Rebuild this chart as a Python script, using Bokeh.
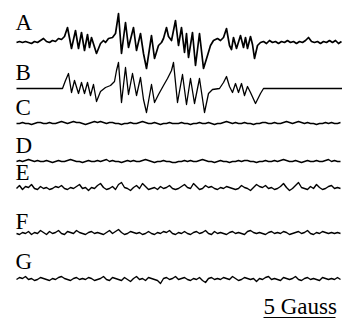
from bokeh.plotting import figure
from bokeh.models import Range1d, Label
from bokeh.embed import file_html
from bokeh.resources import INLINE

# Field positions in points (72 points = 5 Gauss), signal in arbitrary units (up = positive)
field_A = [0, 3, 6, 9, 12, 15, 18, 21, 24, 27, 30, 33, 36, 39, 42, 45, 48, 51, 55, 59,
           62, 65, 68, 71, 73, 75, 80, 84, 87, 89, 92, 96, 99, 101, 102, 105, 109, 112, 117, 120,
           124, 127, 130, 135, 138, 142, 145, 147, 150, 152, 155, 159, 162, 165, 168, 170, 172, 176, 179, 183,
           187, 191, 194, 197, 201, 204, 207, 210, 213, 215, 217, 220, 224, 227, 229, 231, 234, 236, 238, 241,
           244, 247, 250, 253, 256, 259, 262, 265, 268, 271, 274, 277, 280, 283, 286, 289, 292, 295, 298, 301,
           304, 307, 310, 313, 316, 319, 322, 325]
signal_A = [0, 1, 0, 1, 0, -1, 1, 0, 2, 4, 1, 0, 2, 1, 4, 3, 6, 15, -6, 12,
            -6, 10, -8, 8, -5, 5, -11, -1, 2, 0, 4, 5, 9, 22, 29, -11, 20, -5, 15, -8,
            9, -11, -26, 7, -16, -3, 0, 4, 15, 6, 2, 22, -3, 15, -10, 9, -15, 10, -23, 9,
            -26, -13, -3, 2, 4, 2, 5, 14, -3, -7, 5, -6, 7, -5, 5, -6, 6, -2, -16, -3,
            0, 1, -1, 2, 0, 1, -1, 1, 0, 2, 0, 1, -1, 1, 0, 2, 5, 1, 0, 1,
            -1, 1, 0, 2, 0, 2, -1, 1]

field_B = [0, 46, 49, 52, 55, 58, 62, 65, 68, 71, 74, 77, 80, 84, 89, 94, 98, 100, 102, 105,
           109, 112, 116, 120, 124, 127, 130, 135, 138, 142, 147, 151, 155, 157, 161, 166, 170, 174, 178, 183,
           188, 192, 196, 203, 207, 210, 213, 216, 219, 222, 225, 228, 231, 234, 239, 244, 247, 326]
signal_B = [0, 0, 8, 15, -4, 8, -5, 6, -5, 6, -7, 4, -13, -3, 1, 3, 7, 18, 26, -14,
            21, -6, 15, -7, 11, -11, -24, 4, -14, -6, 3, 10, 18, 26, -14, 14, -16, 10, -15, 10,
            -24, -5, -1, 0, 6, 12, 2, -4, 5, -4, 5, -7, 2, -4, -15, -5, 0, 0]

signal_C = [0, 0, 1, 0, 0, -1, 0, 1, 1, 0, 0, 1, 0, 0, 1, 2, 1, 0, 1, 2,
            1, 1, 0, -1, 0, 1, 2, 1, 2, 1, 0, 1, 1, 0, 0, -1, 0, 0, 1, 0,
            0, 1, 2, 1, 0, 0, 1, 0, -1, 0, 0, 1, 0, 0, 0, 1, 0, 0, -1, 0,
            0, 1, 0, 0, 1, 0, -1, 0, 0, 1, 2, 1, 0, 1, 0, 0, 1, 0, 0, -1,
            0, 0, 1, 1, 0, 0, 1, 0, 0, 1, 2, 1, 0, 1, 2, 1, 0, 1, 0, 0,
            -1, 0, 0, 1, 0, 1, 0, 0, 1]
signal_D = [0, 1, 0, 1, 2, 1, 0, 1, 0, 0, 1, 0, -1, 0, 1, 0, 0, 1, 2, 1,
            0, 0, -1, 0, 1, 0, 0, 1, 0, 1, 2, 0, 1, 0, 0, -1, 0, 1, 0, 1,
            0, 0, 1, 2, 1, 0, -1, 0, 0, 1, 0, 0, -1, -1, 0, 0, 1, 0, 1, 0,
            0, 1, 2, 1, 0, 0, -1, 0, 1, 0, 0, -1, 0, 0, 1, 0, 1, 1, 0, 0,
            -1, 0, 0, 1, 0, 0, 1, 0, 1, 2, 1, 0, 0, 1, 0, -1, 0, 1, 0, 0,
            1, 0, 0, 1, 2, 0, 1, 0, 0]
signal_E = [0, 3, -1, 2, 1, 4, 0, -1, 2, 0, 1, -1, 0, 2, 1, 3, 0, -1, 1, 0,
            2, 4, 0, 1, -2, 1, 0, 3, 5, 1, -1, 0, 2, -1, 4, 6, 1, 0, -2, 1,
            3, 0, 5, 2, -1, 0, 1, -1, 2, 0, 1, 3, 0, -1, 0, 2, 4, 1, 0, 5,
            2, -1, 0, 3, 1, 2, 0, -1, 1, 0, 2, 1, 0, -1, 0, 3, 1, 0, -2, 1,
            4, 2, 1, 3, 0, 1, -1, 0, 2, 5, 1, -2, 0, 3, 6, 1, 0, -1, 2, 0,
            4, 1, -1, 0, 2, 3, 0, 1, 0]
signal_F = [0, -1, 1, 0, 2, -1, 1, 0, 3, 1, -1, 2, 0, 1, 3, 0, -1, 2, 1, 0,
            3, 1, 0, -1, 1, 2, 0, 1, 0, -1, 1, 3, 0, 2, 4, 1, -1, 0, 2, 1,
            0, 1, -1, 0, 2, 0, -1, 1, 0, 2, 1, 3, 0, -1, 1, 0, 2, 0, -1, 1,
            2, 0, 1, 3, 0, -1, 2, 0, 1, 0, -1, 1, 2, 0, 1, 0, -1, 2, 3, 1,
            0, 1, 0, -1, 1, 2, 0, 1, 0, 2, 1, -1, 0, 1, 2, 0, 1, 3, 0, -1,
            1, 0, 2, 1, 0, 1, 0, 1, 0]
signal_G = [0, 2, 1, 3, 0, 1, -1, 0, 2, 1, 0, -1, 1, 0, 2, 3, 1, 0, -1, 1,
            2, 0, 1, 0, 2, 1, -1, 0, 1, 3, 0, -1, 2, 1, 0, -1, 2, 0, -2, 1,
            3, 0, 1, -1, 2, 1, 0, -1, -4, 1, 2, 0, 1, 3, 0, 1, 2, 0, -1, 1,
            0, 2, -1, -3, 1, 2, 0, 1, 0, 2, 1, 0, 3, 1, -1, 0, 2, 1, 0, 1,
            -2, 1, 0, 2, 3, 0, 1, 0, -1, 2, 1, 0, 1, 3, 0, -1, 1, 2, 0, 1,
            0, -1, 2, 1, 0, 1, 0, 2, 0]
noise_step = 3  # points between samples of the noise traces

labels = ["A", "B", "C", "D", "E", "F", "G"]
scale_label = "5 Gauss"
scale_points = 72  # 5 Gauss

# layout (plot units: 1 unit = 1 px)
offsets = {"A": -42, "B": -88, "C": -123, "D": -161, "E": -188, "F": -233, "G": -279}
label_y = {"A": -21.5, "B": -72, "C": -106.5, "D": -144.5, "E": -171.5, "F": -220.5, "G": -260.5}

p = figure(width=342, height=322, output_backend="svg", toolbar_location=None,
           x_range=Range1d(-16, 326), y_range=Range1d(-322, 0),
           x_axis_location=None, y_axis_location=None, min_border=0)
p.grid.visible = False
p.outline_line_color = None
p.background_fill_color = "white"
p.border_fill_color = "white"

def draw(xs, ys, key, lw):
    off = offsets[key]
    p.line(xs, [v + off for v in ys], line_color="black", line_width=lw, line_join="round")

draw(field_A, signal_A, "A", 1.7)
draw(field_B, signal_B, "B", 1.3)
for key, sig in zip("CDEFG", [signal_C, signal_D, signal_E, signal_F, signal_G]):
    xs = [noise_step * i for i in range(len(sig))]
    draw(xs, sig, key, 1.4)

for key in labels:
    p.add_layout(Label(x=-1, y=label_y[key], text=key, text_font="Liberation Serif",
                       text_font_size="23px", text_color="black", text_align="left",
                       text_baseline="middle"))

bar_start = 247
p.line([bar_start, bar_start + scale_points], [-317, -317], line_color="black", line_width=1)
p.add_layout(Label(x=bar_start, y=-305.5, text=scale_label, text_font="Liberation Serif",
                   text_font_size="23px", text_color="black", text_align="left",
                   text_baseline="middle"))

open("out.html", "w").write(file_html(p, INLINE))
